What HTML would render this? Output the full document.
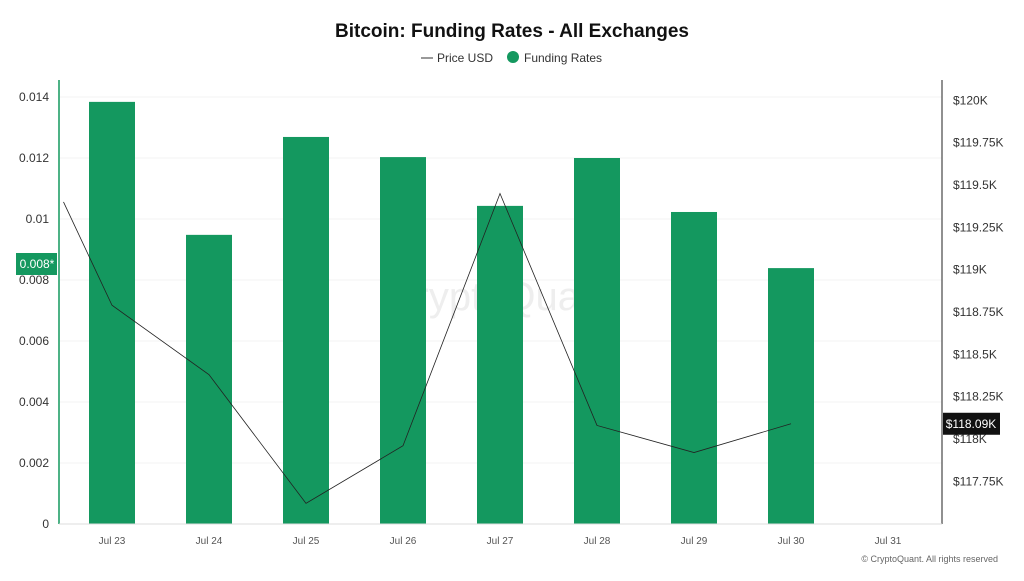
<!DOCTYPE html>
<html><head><meta charset="utf-8"><style>
body{margin:0;background:#fff;font-family:"Liberation Sans",sans-serif;}
svg text{font-family:"Liberation Sans",sans-serif;}
</style></head><body>
<svg id="c" width="1024" height="576">
<text x="512" y="37" text-anchor="middle" font-size="19" font-weight="bold" fill="#111">Bitcoin: Funding Rates - All Exchanges</text>
<g>
<line x1="421" y1="58" x2="433" y2="58" stroke="#333"/>
<text x="437" y="62" font-size="12" fill="#333">Price USD</text>
<circle cx="513" cy="57" r="6" fill="#14985f"/>
<text x="524" y="62" font-size="12" fill="#333">Funding Rates</text>
</g>
<text x="500" y="310" text-anchor="middle" font-size="40" fill="#eee">CryptoQuant</text>
<g id="grid"></g><g id="bars"></g><g id="line"></g><g id="axes"></g>
</svg>
<script>
const categories=["Jul 23","Jul 24","Jul 25","Jul 26","Jul 27","Jul 28","Jul 29","Jul 30","Jul 31"];
const fundingRates=[0.01384,0.00948,0.01269,0.01203,0.01043,0.0120,0.01023,0.00839];
const priceIdx=[-0.5,0,1,2,3,4,5,6,7];
const priceK=[119.40,118.79,118.38,117.62,117.96,119.45,118.08,117.92,118.09];
const leftTicks=[0,0.002,0.004,0.006,0.008,0.01,0.012,0.014];
const leftTickLabels=["0","0.002","0.004","0.006","0.008","0.01","0.012","0.014"];
const rightTicks=[117.75,118,118.25,118.5,118.75,119,119.25,119.5,119.75,120];
const rightTickLabels=["$117.75K","$118K","$118.25K","$118.5K","$118.75K","$119K","$119.25K","$119.5K","$119.75K","$120K"];
const NS="http://www.w3.org/2000/svg";
const xS=i=>112+i*97;
const yL=v=>524-v*30500;
const yR=v=>439-(v-118)*169.3;
function mk(tag,attrs,parent,text){const e=document.createElementNS(NS,tag);for(const k in attrs)e.setAttribute(k,attrs[k]);if(text!==undefined)e.textContent=text;document.getElementById(parent).appendChild(e);return e;}
leftTicks.forEach((t,i)=>{
 const g=mk("line",{x1:60,x2:942,y1:yL(t),y2:yL(t),stroke:"#f3f3f3"},"grid");
 
 
 const l=mk("text",{x:49,y:yL(t)+4,"text-anchor":"end","font-size":12,fill:"#333"},"axes",leftTickLabels[i]);
 
 
});
rightTicks.forEach((t,i)=>{
 const l=mk("text",{x:953,y:yR(t)+4,"font-size":12,fill:"#333"},"axes",rightTickLabels[i]);
 
 
});
categories.forEach((c,i)=>{
 const l=mk("text",{x:xS(i),y:544,"text-anchor":"middle","font-size":10,fill:"#555"},"axes",c);
 
 
});
fundingRates.forEach((v,i)=>{
 const b=mk("rect",{x:xS(i)-23,y:yL(v),width:46,height:524-yL(v),fill:"#14985f"},"bars");
 
 
});
const pts=priceK.map((p,i)=>xS(priceIdx[i])+","+yR(p)).join(" ");
const pl=mk("polyline",{points:pts,fill:"none",stroke:"#222","stroke-width":0.8},"line");


const a1=mk("line",{x1:59,x2:59,y1:80,y2:524,stroke:"#14985f","stroke-width":1.5},"axes");


const a2=mk("line",{x1:942,x2:942,y1:80,y2:524,stroke:"#222"},"axes");


const a3=mk("line",{x1:59,x2:942,y1:524,y2:524,stroke:"#ddd"},"axes");


const lb=mk("rect",{x:16,y:253,width:41,height:22,fill:"#14985f"},"axes");


const lt=mk("text",{x:37,y:268,"text-anchor":"middle","font-size":12,fill:"#fff"},"axes","0.008*");


const last=priceK[priceK.length-1];
const rb=mk("rect",{x:943,y:yR(last)-11,width:57,height:22,fill:"#111"},"axes");


const rt=mk("text",{x:971,y:yR(last)+4,"text-anchor":"middle","font-size":12,fill:"#fff"},"axes","$"+last.toFixed(2)+"K");


const cp=mk("text",{x:998,y:562,"text-anchor":"end","font-size":9,fill:"#666"},"axes","© CryptoQuant. All rights reserved");


</script>
</body></html>
